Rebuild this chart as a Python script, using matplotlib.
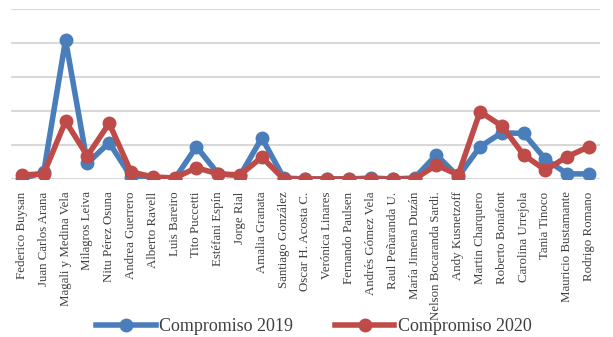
import matplotlib.pyplot as plt

nombres = [
    'Federico Buysan', 'Juan Carlos Arana', 'Magali y Medina Vela', 'Milagros Leiva',
    'Nitu Pérez Osuna', 'Andrea Guerrero', 'Alberto Ravell', 'Luis Bareiro',
    'Tito Puccetti', 'Estéfani Espín', 'Jorge Rial', 'Amalia Granata',
    'Santiago González', 'Oscar H. Acosta C.', 'Verónica Linares', 'Fernando Paulsen',
    'Andrés Gómez Vela', 'Raul Peñaranda U.', 'María Jimena Duzán',
    'Nelson Bocaranda Sardi.', 'Andy Kusnetzoff', 'Martin Charquero',
    'Roberto Bonafont', 'Carolina Urrejola', 'Tania Tinoco',
    'Mauricio Bustamante', 'Rodrigo Romano',
]

comp_2019 = [0.0, 0.2, 4.09, 0.46, 1.07, 0.07, 0.0, 0.0, 0.95, 0.15, 0.1, 1.21, 0.03, 0.0,
             0.0, 0.0, 0.03, 0.0, 0.03, 0.71, 0.07, 0.95, 1.36, 1.34, 0.58, 0.15, 0.15]
comp_2020 = [0.12, 0.15, 1.7, 0.68, 1.64, 0.21, 0.06, 0.03, 0.33, 0.15, 0.12, 0.64, 0.0, 0.0,
             0.0, 0.0, 0.0, 0.0, 0.0, 0.41, 0.12, 1.98, 1.56, 0.71, 0.26, 0.66, 0.95]

fig = plt.figure(figsize=(6.13, 3.37), dpi=100)
ax = fig.add_axes([11 / 613, 158 / 337, 589 / 613, 170 / 337])

x = list(range(len(nombres)))
ax.plot(x, comp_2019, color='#4A7EBB', lw=4, marker='o', ms=9,
        solid_joinstyle='round', label='Compromiso 2019')
ax.plot(x, comp_2020, color='#BE4B48', lw=4, marker='o', ms=9,
        solid_joinstyle='round', label='Compromiso 2020')

ax.set_xlim(-0.5, len(nombres) - 0.5)
ax.set_ylim(0, 5)
ax.set_yticks(range(6))
ax.yaxis.grid(True, color='#D9D9D9', lw=1.5)
ax.set_axisbelow(True)
ax.tick_params(axis='y', left=False, labelleft=False)
ax.tick_params(axis='x', length=0, pad=9)
for s in ax.spines.values():
    s.set_visible(False)

ax.set_xticks(x)
ax.set_xticklabels(nombres, rotation=90, fontsize=9.3, family='Liberation Serif',
                   color='#404040')

fig.legend(loc='lower center', bbox_to_anchor=(0.512, -0.042), ncol=2, frameon=False,
           prop={'family': 'Liberation Serif', 'size': 13}, handlelength=3.3,
           columnspacing=2.3, handletextpad=0.2, labelcolor='#404040')

fig.savefig('out.png', dpi=100)
